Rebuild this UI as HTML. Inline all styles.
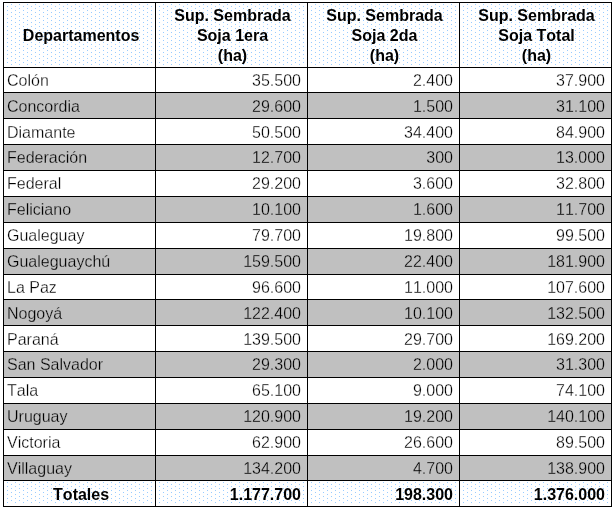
<!DOCTYPE html>
<html><head><meta charset="utf-8"><title>Soja</title>
<style>
html,body{margin:0;padding:0;background:#fff;}
body{width:615px;height:510px;position:relative;overflow:hidden;font-family:"Liberation Sans",sans-serif;font-size:16px;color:#000;font-kerning:none;font-variant-ligatures:none;}
.l{position:absolute;background:#000;}
.g{position:absolute;background:#c0c0c0;}
.t{position:absolute;white-space:nowrap;line-height:20px;height:20px;}
.r{text-align:right;}
.w{-webkit-text-stroke:0.28px #fff;}
.k{-webkit-text-stroke:0.28px #c0c0c0;}
.c{text-align:center;}
.b{font-weight:bold;}
svg{position:absolute;left:0;top:0;}
#tx{position:absolute;left:0;top:0;width:615px;height:510px;will-change:transform;}
</style></head><body>

<svg width="615" height="510" viewBox="0 0 615 510" shape-rendering="crispEdges">
<defs><pattern id="p" x="0" y="0" width="8" height="4" patternUnits="userSpaceOnUse"><rect x="3" y="0" width="1" height="1" fill="#99ccff"/><rect x="7" y="2" width="1" height="1" fill="#99ccff"/></pattern></defs>
<rect x="4" y="3" width="607" height="64" fill="#ffffff"/>
<rect x="4" y="3" width="607" height="63" fill="url(#p)"/>
<rect x="4" y="481" width="607" height="25" fill="#ffffff"/>
<rect x="4" y="481" width="607" height="23" fill="url(#p)"/>
</svg>
<div class="g" style="left:4px;top:93px;width:607px;height:25px"></div>
<div class="g" style="left:4px;top:145px;width:607px;height:25px"></div>
<div class="g" style="left:4px;top:197px;width:607px;height:25px"></div>
<div class="g" style="left:4px;top:249px;width:607px;height:25px"></div>
<div class="g" style="left:4px;top:300px;width:607px;height:25px"></div>
<div class="g" style="left:4px;top:352px;width:607px;height:25px"></div>
<div class="g" style="left:4px;top:404px;width:607px;height:25px"></div>
<div class="g" style="left:4px;top:456px;width:607px;height:24px"></div>
<div class="l" style="left:3px;top:2px;width:609px;height:1px"></div>
<div class="l" style="left:3px;top:67px;width:609px;height:1px"></div>
<div class="l" style="left:3px;top:92px;width:609px;height:1px"></div>
<div class="l" style="left:3px;top:118px;width:609px;height:1px"></div>
<div class="l" style="left:3px;top:144px;width:609px;height:1px"></div>
<div class="l" style="left:3px;top:170px;width:609px;height:1px"></div>
<div class="l" style="left:3px;top:196px;width:609px;height:1px"></div>
<div class="l" style="left:3px;top:222px;width:609px;height:1px"></div>
<div class="l" style="left:3px;top:248px;width:609px;height:1px"></div>
<div class="l" style="left:3px;top:274px;width:609px;height:1px"></div>
<div class="l" style="left:3px;top:299px;width:609px;height:1px"></div>
<div class="l" style="left:3px;top:325px;width:609px;height:1px"></div>
<div class="l" style="left:3px;top:351px;width:609px;height:1px"></div>
<div class="l" style="left:3px;top:377px;width:609px;height:1px"></div>
<div class="l" style="left:3px;top:403px;width:609px;height:1px"></div>
<div class="l" style="left:3px;top:429px;width:609px;height:1px"></div>
<div class="l" style="left:3px;top:455px;width:609px;height:1px"></div>
<div class="l" style="left:3px;top:480px;width:609px;height:1px"></div>
<div class="l" style="left:3px;top:506px;width:609px;height:1px"></div>
<div class="l" style="left:3px;top:2px;width:1px;height:505px"></div>
<div class="l" style="left:155px;top:2px;width:1px;height:505px"></div>
<div class="l" style="left:307px;top:2px;width:1px;height:505px"></div>
<div class="l" style="left:459px;top:2px;width:1px;height:505px"></div>
<div class="l" style="left:611px;top:2px;width:1px;height:505px"></div>
<div id="tx">
<div class="t c b" style="left:5.6px;top:25.8px;width:151px">Departamentos</div>
<div class="t c b" style="left:157.0px;top:5.7px;width:151px">Sup. Sembrada</div>
<div class="t c b" style="left:157.0px;top:25.6px;width:151px">Soja 1era</div>
<div class="t c b" style="left:157.0px;top:45.5px;width:151px">(ha)</div>
<div class="t c b" style="left:309.0px;top:5.7px;width:151px">Sup. Sembrada</div>
<div class="t c b" style="left:309.0px;top:25.6px;width:151px">Soja 2da</div>
<div class="t c b" style="left:309.0px;top:45.5px;width:151px">(ha)</div>
<div class="t c b" style="left:461.0px;top:5.7px;width:151px">Sup. Sembrada</div>
<div class="t c b" style="left:461.0px;top:25.6px;width:151px">Soja Total</div>
<div class="t c b" style="left:461.0px;top:45.5px;width:151px">(ha)</div>
<div class="t w" style="left:7px;top:70.5px">Colón</div>
<div class="t r w" style="left:156px;top:70.5px;width:145px">35.500</div>
<div class="t r w" style="left:308px;top:70.5px;width:145px">2.400</div>
<div class="t r w" style="left:460px;top:70.5px;width:145px">37.900</div>
<div class="t k" style="left:7px;top:96.5px">Concordia</div>
<div class="t r k" style="left:156px;top:96.5px;width:145px">29.600</div>
<div class="t r k" style="left:308px;top:96.5px;width:145px">1.500</div>
<div class="t r k" style="left:460px;top:96.5px;width:145px">31.100</div>
<div class="t w" style="left:7px;top:122.5px">Diamante</div>
<div class="t r w" style="left:156px;top:122.5px;width:145px">50.500</div>
<div class="t r w" style="left:308px;top:122.5px;width:145px">34.400</div>
<div class="t r w" style="left:460px;top:122.5px;width:145px">84.900</div>
<div class="t k" style="left:7px;top:147.5px">Federación</div>
<div class="t r k" style="left:156px;top:147.5px;width:145px">12.700</div>
<div class="t r k" style="left:308px;top:147.5px;width:145px">300</div>
<div class="t r k" style="left:460px;top:147.5px;width:145px">13.000</div>
<div class="t w" style="left:7px;top:173.5px">Federal</div>
<div class="t r w" style="left:156px;top:173.5px;width:145px">29.200</div>
<div class="t r w" style="left:308px;top:173.5px;width:145px">3.600</div>
<div class="t r w" style="left:460px;top:173.5px;width:145px">32.800</div>
<div class="t k" style="left:7px;top:199.5px">Feliciano</div>
<div class="t r k" style="left:156px;top:199.5px;width:145px">10.100</div>
<div class="t r k" style="left:308px;top:199.5px;width:145px">1.600</div>
<div class="t r k" style="left:460px;top:199.5px;width:145px">11.700</div>
<div class="t w" style="left:7px;top:225.5px">Gualeguay</div>
<div class="t r w" style="left:156px;top:225.5px;width:145px">79.700</div>
<div class="t r w" style="left:308px;top:225.5px;width:145px">19.800</div>
<div class="t r w" style="left:460px;top:225.5px;width:145px">99.500</div>
<div class="t k" style="left:7px;top:251.5px">Gualeguaychú</div>
<div class="t r k" style="left:156px;top:251.5px;width:145px">159.500</div>
<div class="t r k" style="left:308px;top:251.5px;width:145px">22.400</div>
<div class="t r k" style="left:460px;top:251.5px;width:145px">181.900</div>
<div class="t w" style="left:7px;top:277.5px">La Paz</div>
<div class="t r w" style="left:156px;top:277.5px;width:145px">96.600</div>
<div class="t r w" style="left:308px;top:277.5px;width:145px">11.000</div>
<div class="t r w" style="left:460px;top:277.5px;width:145px">107.600</div>
<div class="t k" style="left:7px;top:303.5px">Nogoyá</div>
<div class="t r k" style="left:156px;top:303.5px;width:145px">122.400</div>
<div class="t r k" style="left:308px;top:303.5px;width:145px">10.100</div>
<div class="t r k" style="left:460px;top:303.5px;width:145px">132.500</div>
<div class="t w" style="left:7px;top:329.5px">Paraná</div>
<div class="t r w" style="left:156px;top:329.5px;width:145px">139.500</div>
<div class="t r w" style="left:308px;top:329.5px;width:145px">29.700</div>
<div class="t r w" style="left:460px;top:329.5px;width:145px">169.200</div>
<div class="t k" style="left:7px;top:354.5px">San Salvador</div>
<div class="t r k" style="left:156px;top:354.5px;width:145px">29.300</div>
<div class="t r k" style="left:308px;top:354.5px;width:145px">2.000</div>
<div class="t r k" style="left:460px;top:354.5px;width:145px">31.300</div>
<div class="t w" style="left:7px;top:380.5px">Tala</div>
<div class="t r w" style="left:156px;top:380.5px;width:145px">65.100</div>
<div class="t r w" style="left:308px;top:380.5px;width:145px">9.000</div>
<div class="t r w" style="left:460px;top:380.5px;width:145px">74.100</div>
<div class="t k" style="left:7px;top:406.5px">Uruguay</div>
<div class="t r k" style="left:156px;top:406.5px;width:145px">120.900</div>
<div class="t r k" style="left:308px;top:406.5px;width:145px">19.200</div>
<div class="t r k" style="left:460px;top:406.5px;width:145px">140.100</div>
<div class="t w" style="left:7px;top:432.5px">Victoria</div>
<div class="t r w" style="left:156px;top:432.5px;width:145px">62.900</div>
<div class="t r w" style="left:308px;top:432.5px;width:145px">26.600</div>
<div class="t r w" style="left:460px;top:432.5px;width:145px">89.500</div>
<div class="t k" style="left:7px;top:458.5px">Villaguay</div>
<div class="t r k" style="left:156px;top:458.5px;width:145px">134.200</div>
<div class="t r k" style="left:308px;top:458.5px;width:145px">4.700</div>
<div class="t r k" style="left:460px;top:458.5px;width:145px">138.900</div>
<div class="t c b" style="left:5.6px;top:484.5px;width:151px">Totales</div>
<div class="t r b" style="left:156px;top:484.5px;width:145px">1.177.700</div>
<div class="t r b" style="left:308px;top:484.5px;width:145px">198.300</div>
<div class="t r b" style="left:460px;top:484.5px;width:145px">1.376.000</div>
</div>
</body></html>
